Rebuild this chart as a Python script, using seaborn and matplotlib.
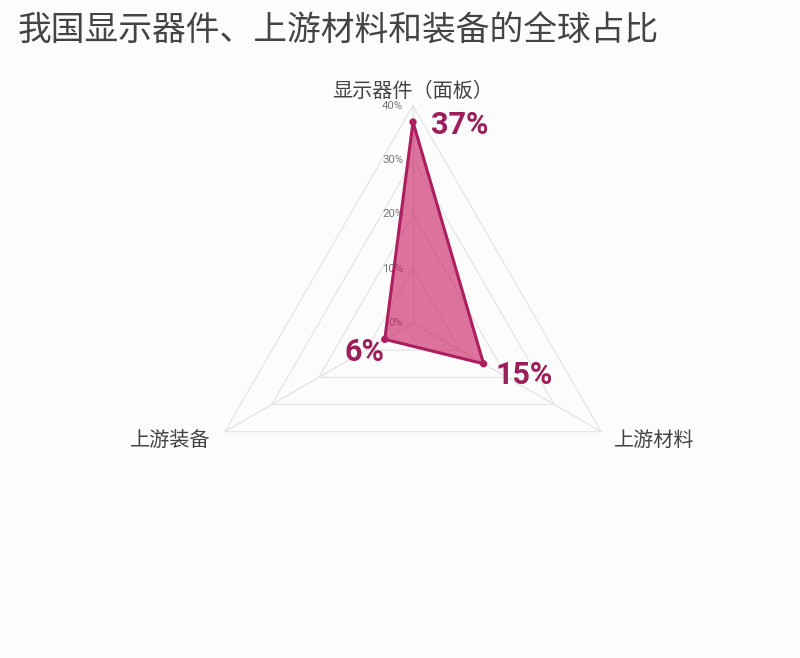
import numpy as np
import pandas as pd
import seaborn as sns
import matplotlib
matplotlib.use("Agg")
import matplotlib.pyplot as plt

# dados
categorias = ["显示器件（面板）", "上游材料", "上游装备"]
valores = [37, 15, 6]
rotulos = ["37%", "15%", "6%"]
niveis = [10, 20, 30, 40]
niveis_txt = ["0%", "10%", "20%", "30%", "40%"]
titulo = "我国显示器件、上游材料和装备的全球占比"

sns.set_theme(style="white")
plt.rcParams["font.family"] = ["Noto Sans CJK SC", "DejaVu Sans"]

COR_LINHA = "#ad1e5f"
COR_FILL = "#c81f61"
COR_TXT = "#9c1e5a"
FUNDO = "#fcfcfc"

# ângulos: topo, inferior direito, inferior esquerdo (sentido horário)
angulos = np.deg2rad([90, -30, 210])

fig = plt.figure(figsize=(8, 6.58), dpi=100, facecolor=FUNDO)
# centro em (413, 323) px, raio 40 -> ~217 px
esc = 217.3 / 40
xl, xr = -60, 60
yb, yt = -30, 45
cx, cy = 413, 658 - 323
w = (xr - xl) * esc
h = (yt - yb) * esc
ax = fig.add_axes([(cx + xl * esc) / 800, (cy + yb * esc) / 658, w / 800, h / 658])
ax.set_facecolor(FUNDO)

# grade poligonal
for n in niveis:
    gx = np.append(n * np.cos(angulos), n * np.cos(angulos[0]))
    gy = np.append(n * np.sin(angulos), n * np.sin(angulos[0]))
    ax.plot(gx, gy, color="#e6e6e6", lw=0.9, zorder=1)
for a in angulos:
    ax.plot([0, 40 * np.cos(a)], [0, 40 * np.sin(a)], color="#e3e3e3", lw=0.9, zorder=1)

# rótulos do eixo radial
for i, t in enumerate(niveis_txt):
    ax.text(-1.8, i * 10, t, ha="right", va="center", fontsize=8.2, color="#777777",
            family=["Roboto", "DejaVu Sans"], zorder=2)

# dados
df = pd.DataFrame({
    "categoria": categorias,
    "valor": valores,
    "x": np.array(valores) * np.cos(angulos),
    "y": np.array(valores) * np.sin(angulos),
})
ax.fill(df["x"], df["y"], color=COR_FILL, alpha=0.62, lw=0, zorder=3)
fechado = pd.concat([df, df.iloc[[0]]], ignore_index=True)
sns.lineplot(data=fechado, x="x", y="y", sort=False, color=COR_LINHA, lw=2.2,
             ax=ax, zorder=4, estimator=None)
sns.scatterplot(data=df, x="x", y="y", color=COR_LINHA, s=28, edgecolor="none",
                ax=ax, zorder=5)
ax.set_xlim(xl, xr)
ax.set_ylim(yb, yt)
ax.axis("off")

# rótulos de valor
desloc = [(3.4, -0.5), (2.2, -2.0), (0.0, -2.4)]
alinh = ["left", "left", "right"]
for i, r in df.iterrows():
    ax.text(r["x"] + desloc[i][0], r["y"] + desloc[i][1], rotulos[i], ha=alinh[i], va="center",
            fontsize=22, fontweight="bold", color=COR_TXT,
            family=["Roboto", "DejaVu Sans"], zorder=6)

# rótulos das categorias
ax.text(0, 40.75, categorias[0], ha="center", va="bottom", fontsize=14.5, color="#444444")
ax.text(40 * np.cos(angulos[1]) + 2.4, 40 * np.sin(angulos[1]) - 1.7, categorias[1],
        ha="left", va="center", fontsize=14.5, color="#444444")
ax.text(40 * np.cos(angulos[2]) - 2.6, 40 * np.sin(angulos[2]) - 1.7, categorias[2],
        ha="right", va="center", fontsize=14.5, color="#444444")

fig.text(18 / 800, 1 - 31 / 658, titulo, ha="left", va="center", fontsize=24.3, color="#444444")

fig.savefig("out.png", dpi=100, facecolor=FUNDO)
